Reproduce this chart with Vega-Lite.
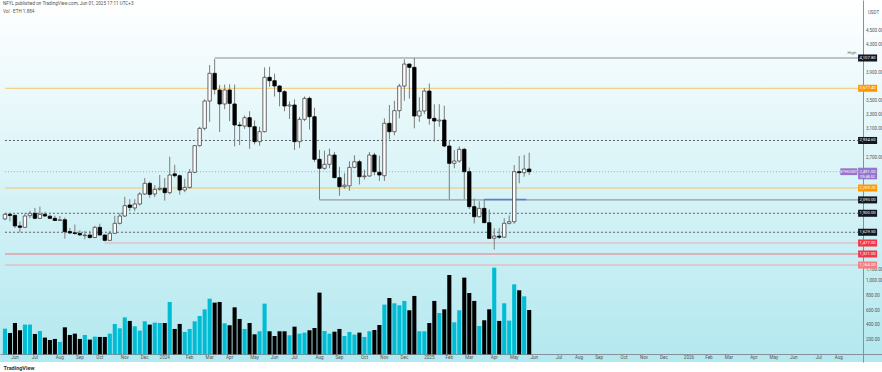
{
  "$schema": "https://vega.github.io/schema/vega-lite/v6.json",
  "width": 882,
  "height": 362,
  "padding": 0,
  "background": "#ffffff",
  "config": {
    "font": "Roboto",
    "view": {"stroke": null, "fill": {"gradient": "linear", "x1": 0, "y1": 0, "x2": 0, "y2": 1, "stops": [{"offset": 0, "color": "#ffffff"}, {"offset": 1, "color": "#b2e8ef"}]}}
  },
  "title": {"text": "NFYL published on TradingView.com, Jun 01, 2025 17:11 UTC+3", "subtitle": "Vol · ETH  1.884", "anchor": "start", "frame": "group", "orient": "top", "offset": -14, "fontSize": 4.6, "fontWeight": "normal", "color": "#555555", "subtitleFontSize": 4.6, "subtitleColor": "#555555", "subtitlePadding": 3.5, "dx": 3},
  "datasets": {
    "candles": [
      {"d":"2023-05-22","o":1820,"h":1900,"l":1800,"c":1885,"v":349},
      {"d":"2023-05-29","o":1885,"h":1905,"l":1785,"c":1870,"v":290},
      {"d":"2023-06-05","o":1870,"h":1880,"l":1690,"c":1720,"v":426},
      {"d":"2023-06-12","o":1720,"h":1780,"l":1626,"c":1700,"v":327},
      {"d":"2023-06-19","o":1700,"h":1900,"l":1690,"c":1861,"v":404},
      {"d":"2023-06-26","o":1866,"h":1935,"l":1830,"c":1899,"v":404},
      {"d":"2023-07-03","o":1899,"h":1975,"l":1815,"c":1828,"v":277},
      {"d":"2023-07-10","o":1828,"h":1994,"l":1820,"c":1885,"v":317},
      {"d":"2023-07-17","o":1885,"h":1920,"l":1845,"c":1861,"v":227},
      {"d":"2023-07-24","o":1858,"h":1880,"l":1815,"c":1828,"v":195},
      {"d":"2023-07-31","o":1828,"h":1865,"l":1790,"c":1797,"v":209},
      {"d":"2023-08-07","o":1797,"h":1860,"l":1790,"c":1808,"v":168},
      {"d":"2023-08-14","o":1808,"h":1840,"l":1540,"c":1638,"v":367},
      {"d":"2023-08-21","o":1640,"h":1690,"l":1605,"c":1620,"v":263},
      {"d":"2023-08-28","o":1622,"h":1740,"l":1595,"c":1612,"v":281},
      {"d":"2023-09-04","o":1612,"h":1660,"l":1580,"c":1592,"v":209},
      {"d":"2023-09-11","o":1582,"h":1650,"l":1530,"c":1590,"v":263},
      {"d":"2023-09-18","o":1590,"h":1650,"l":1540,"c":1555,"v":200},
      {"d":"2023-09-25","o":1555,"h":1720,"l":1550,"c":1700,"v":240},
      {"d":"2023-10-02","o":1700,"h":1752,"l":1585,"c":1591,"v":236},
      {"d":"2023-10-09","o":1591,"h":1600,"l":1500,"c":1515,"v":236},
      {"d":"2023-10-16","o":1515,"h":1650,"l":1505,"c":1615,"v":281},
      {"d":"2023-10-23","o":1615,"h":1865,"l":1610,"c":1757,"v":413},
      {"d":"2023-10-30","o":1757,"h":1900,"l":1740,"c":1861,"v":354},
      {"d":"2023-11-06","o":1861,"h":2135,"l":1850,"c":2008,"v":503},
      {"d":"2023-11-13","o":2017,"h":2100,"l":1930,"c":1984,"v":454},
      {"d":"2023-11-20","o":1975,"h":2100,"l":1930,"c":2032,"v":381},
      {"d":"2023-11-27","o":2032,"h":2200,"l":2010,"c":2174,"v":322},
      {"d":"2023-12-04","o":2174,"h":2400,"l":2160,"c":2326,"v":449},
      {"d":"2023-12-11","o":2326,"h":2350,"l":2120,"c":2169,"v":404},
      {"d":"2023-12-18","o":2174,"h":2300,"l":2130,"c":2240,"v":431},
      {"d":"2023-12-25","o":2240,"h":2445,"l":2220,"c":2255,"v":426},
      {"d":"2024-01-01","o":2255,"h":2400,"l":2080,"c":2193,"v":426},
      {"d":"2024-01-08","o":2193,"h":2705,"l":2170,"c":2444,"v":712},
      {"d":"2024-01-15","o":2460,"h":2590,"l":2410,"c":2434,"v":345},
      {"d":"2024-01-22","o":2434,"h":2450,"l":2165,"c":2231,"v":413},
      {"d":"2024-01-29","o":2231,"h":2390,"l":2200,"c":2268,"v":304},
      {"d":"2024-02-05","o":2268,"h":2530,"l":2250,"c":2482,"v":345},
      {"d":"2024-02-12","o":2482,"h":2870,"l":2470,"c":2861,"v":449},
      {"d":"2024-02-19","o":2861,"h":3130,"l":2850,"c":3108,"v":522},
      {"d":"2024-02-26","o":3108,"h":3520,"l":3080,"c":3496,"v":612},
      {"d":"2024-03-04","o":3496,"h":4008,"l":3200,"c":3890,"v":757},
      {"d":"2024-03-11","o":3890,"h":4093,"l":3590,"c":3662,"v":703},
      {"d":"2024-03-18","o":3653,"h":3725,"l":3056,"c":3454,"v":712},
      {"d":"2024-03-25","o":3454,"h":3730,"l":3380,"c":3653,"v":422},
      {"d":"2024-04-01","o":3653,"h":3735,"l":3210,"c":3463,"v":395},
      {"d":"2024-04-08","o":3454,"h":3730,"l":2850,"c":3155,"v":639},
      {"d":"2024-04-15","o":3155,"h":3200,"l":2870,"c":3146,"v":481},
      {"d":"2024-04-22","o":3140,"h":3290,"l":3100,"c":3259,"v":345},
      {"d":"2024-04-29","o":3259,"h":3350,"l":2817,"c":3131,"v":426},
      {"d":"2024-05-06","o":3131,"h":3220,"l":2880,"c":2918,"v":272},
      {"d":"2024-05-13","o":2918,"h":3130,"l":2860,"c":3060,"v":313},
      {"d":"2024-05-20","o":3060,"h":3975,"l":3050,"c":3833,"v":689},
      {"d":"2024-05-27","o":3833,"h":3984,"l":3700,"c":3785,"v":313},
      {"d":"2024-06-03","o":3785,"h":3885,"l":3560,"c":3710,"v":249},
      {"d":"2024-06-10","o":3710,"h":3720,"l":3420,"c":3629,"v":313},
      {"d":"2024-06-17","o":3629,"h":3650,"l":3350,"c":3425,"v":313},
      {"d":"2024-06-24","o":3425,"h":3490,"l":3240,"c":3440,"v":259},
      {"d":"2024-07-01","o":3439,"h":3520,"l":2800,"c":2918,"v":376},
      {"d":"2024-07-08","o":2918,"h":3270,"l":2830,"c":3236,"v":281},
      {"d":"2024-07-15","o":3236,"h":3560,"l":3210,"c":3534,"v":295},
      {"d":"2024-07-22","o":3534,"h":3560,"l":3090,"c":3273,"v":327},
      {"d":"2024-07-29","o":3273,"h":3400,"l":2630,"c":2667,"v":358},
      {"d":"2024-08-05","o":2667,"h":2800,"l":2095,"c":2539,"v":839},
      {"d":"2024-08-12","o":2539,"h":2790,"l":2520,"c":2596,"v":317},
      {"d":"2024-08-19","o":2596,"h":2820,"l":2540,"c":2728,"v":281},
      {"d":"2024-08-26","o":2728,"h":2770,"l":2400,"c":2406,"v":308},
      {"d":"2024-09-02","o":2406,"h":2560,"l":2150,"c":2278,"v":345},
      {"d":"2024-09-09","o":2278,"h":2470,"l":2250,"c":2300,"v":249},
      {"d":"2024-09-16","o":2290,"h":2640,"l":2220,"c":2553,"v":304},
      {"d":"2024-09-23","o":2553,"h":2725,"l":2540,"c":2633,"v":268},
      {"d":"2024-09-30","o":2633,"h":2660,"l":2310,"c":2420,"v":295},
      {"d":"2024-10-07","o":2420,"h":2520,"l":2380,"c":2430,"v":236},
      {"d":"2024-10-14","o":2430,"h":2770,"l":2420,"c":2728,"v":313},
      {"d":"2024-10-21","o":2728,"h":2760,"l":2440,"c":2491,"v":331},
      {"d":"2024-10-28","o":2482,"h":2720,"l":2360,"c":2444,"v":399},
      {"d":"2024-11-04","o":2434,"h":3250,"l":2360,"c":3179,"v":676},
      {"d":"2024-11-11","o":3179,"h":3440,"l":2950,"c":3060,"v":766},
      {"d":"2024-11-18","o":3060,"h":3500,"l":3010,"c":3359,"v":694},
      {"d":"2024-11-25","o":3359,"h":3740,"l":3250,"c":3709,"v":667},
      {"d":"2024-12-02","o":3709,"h":4090,"l":3500,"c":4022,"v":726},
      {"d":"2024-12-09","o":4022,"h":4030,"l":3530,"c":3975,"v":599},
      {"d":"2024-12-16","o":3975,"h":4107.8,"l":3108,"c":3283,"v":794},
      {"d":"2024-12-23","o":3283,"h":3550,"l":3200,"c":3354,"v":313},
      {"d":"2024-12-30","o":3354,"h":3680,"l":3310,"c":3638,"v":313},
      {"d":"2025-01-06","o":3638,"h":3745,"l":3160,"c":3250,"v":426},
      {"d":"2025-01-13","o":3250,"h":3450,"l":2920,"c":3212,"v":726},
      {"d":"2025-01-20","o":3212,"h":3450,"l":3130,"c":3225,"v":562},
      {"d":"2025-01-27","o":3226,"h":3430,"l":2840,"c":2856,"v":612},
      {"d":"2025-02-03","o":2856,"h":2930,"l":2095,"c":2610,"v":1079},
      {"d":"2025-02-10","o":2610,"h":2800,"l":2540,"c":2643,"v":435},
      {"d":"2025-02-17","o":2643,"h":2850,"l":2620,"c":2809,"v":599},
      {"d":"2025-02-24","o":2809,"h":2830,"l":2100,"c":2491,"v":1043},
      {"d":"2025-03-03","o":2491,"h":2550,"l":1960,"c":1994,"v":834},
      {"d":"2025-03-10","o":1994,"h":2110,"l":1755,"c":1851,"v":726},
      {"d":"2025-03-17","o":1851,"h":2070,"l":1840,"c":1970,"v":385},
      {"d":"2025-03-24","o":1970,"h":2100,"l":1765,"c":1766,"v":463},
      {"d":"2025-03-31","o":1766,"h":1955,"l":1537,"c":1543,"v":612},
      {"d":"2025-04-07","o":1545,"h":1690,"l":1385,"c":1575,"v":1179},
      {"d":"2025-04-14","o":1575,"h":1690,"l":1535,"c":1560,"v":454},
      {"d":"2025-04-21","o":1560,"h":1830,"l":1550,"c":1757,"v":694},
      {"d":"2025-04-28","o":1757,"h":1870,"l":1740,"c":1780,"v":458},
      {"d":"2025-05-05","o":1780,"h":2586,"l":1750,"c":2491,"v":952},
      {"d":"2025-05-12","o":2491,"h":2714,"l":2326,"c":2477,"v":871},
      {"d":"2025-05-19","o":2477,"h":2730,"l":2420,"c":2529,"v":789},
      {"d":"2025-05-26","o":2529,"h":2762,"l":2444,"c":2491,"v":603}
    ],
    "months": [
      {"m":"2023-06-05","t":"Jun"},{"m":"2023-07-03","t":"Jul"},{"m":"2023-08-07","t":"Aug"},{"m":"2023-09-04","t":"Sep"},{"m":"2023-10-02","t":"Oct"},{"m":"2023-11-06","t":"Nov"},{"m":"2023-12-04","t":"Dec"},
      {"m":"2024-01-01","t":"2024"},{"m":"2024-02-05","t":"Feb"},{"m":"2024-03-04","t":"Mar"},{"m":"2024-04-01","t":"Apr"},{"m":"2024-05-06","t":"May"},{"m":"2024-06-03","t":"Jun"},{"m":"2024-07-01","t":"Jul"},{"m":"2024-08-05","t":"Aug"},{"m":"2024-09-02","t":"Sep"},{"m":"2024-10-07","t":"Oct"},{"m":"2024-11-04","t":"Nov"},{"m":"2024-12-02","t":"Dec"},
      {"m":"2025-01-06","t":"2025"},{"m":"2025-02-03","t":"Feb"},{"m":"2025-03-03","t":"Mar"},{"m":"2025-04-07","t":"Apr"},{"m":"2025-05-05","t":"May"},{"m":"2025-06-02","t":"Jun"},{"m":"2025-07-07","t":"Jul"},{"m":"2025-08-04","t":"Aug"},{"m":"2025-09-01","t":"Sep"},{"m":"2025-10-06","t":"Oct"},{"m":"2025-11-03","t":"Nov"},{"m":"2025-12-01","t":"Dec"},
      {"m":"2026-01-05","t":"2026"},{"m":"2026-02-02","t":"Feb"},{"m":"2026-03-02","t":"Mar"},{"m":"2026-04-06","t":"Apr"},{"m":"2026-05-04","t":"May"},{"m":"2026-06-01","t":"Jun"},{"m":"2026-07-06","t":"Jul"},{"m":"2026-08-03","t":"Aug"}
    ],
    "levels": [
      {"price":4107.8,"start":"2024-03-11","kind":"solid"},
      {"price":3677,"start":"2023-05-22","kind":"orange"},
      {"price":2935,"start":"2023-05-22","kind":"dotted"},
      {"price":2491,"start":"2023-05-22","kind":"current"},
      {"price":2259,"start":"2023-05-22","kind":"orange"},
      {"price":2090,"start":"2024-08-05","kind":"solid"},
      {"price":1900,"start":"2023-05-22","kind":"dotted"},
      {"price":1630,"start":"2023-05-22","kind":"dotted"},
      {"price":1477,"start":"2023-10-09","kind":"pink"},
      {"price":1321,"start":"2023-05-22","kind":"red"},
      {"price":1164,"start":"2023-05-22","kind":"pink"}
    ],
    "segments": [
      {"price":2095,"start":"2025-03-24","end":"2025-05-22"}
    ],
    "labels": [
      {"price":4107.8,"text":"4,107.80","kind":"black"},
      {"price":3677,"text":"3,677.40","kind":"orange"},
      {"price":2935,"text":"2,934.60","kind":"black"},
      {"price":2259,"text":"2,259.20","kind":"orange"},
      {"price":2090,"text":"2,090.00","kind":"black"},
      {"price":1900,"text":"1,900.00","kind":"black"},
      {"price":1630,"text":"1,629.50","kind":"black"},
      {"price":1477,"text":"1,477.00","kind":"red"},
      {"price":1321,"text":"1,321.00","kind":"red"},
      {"price":1164,"text":"1,164.00","kind":"pink"}
    ],
    "current": [
      {"price":2491,"text":"2,491.00","timer":"09:48:52","sym":"ETHUSDT"}
    ],
    "notes": [
      {"price":4107.8,"text":"High"}
    ]
  },
  "layer": [
    {
      "layer": [
        {
          "data": {"name": "levels"},
          "mark": {"type": "rule", "strokeWidth": 1},
          "encoding": {
            "x": {"field": "start", "type": "temporal", "title": "TradingView", "scale": {"type": "utc", "domain": [{"year":2023,"month":5,"date":22,"hours":1,"minutes":41,"utc":true},{"year":2026,"month":9,"date":25,"hours":15,"minutes":24,"utc":true}]},
              "axis": {"orient": "bottom", "offset": -8, "labels": false, "ticks": false, "domainColor": "#8a8f99", "domainWidth": 1, "grid": false,
                "title": "TradingView", "titleFontSize": 5.5, "titleColor": "#333333", "titleFontWeight": "bold", "titleAnchor": "start", "titleAlign": "left", "titleX": 3, "titleY": 13, "titleBaseline": "middle"}},
            "x2": {"datum": {"year":2026,"month":8,"date":30,"hours":6,"utc":true}},
            "y": {"field": "price", "type": "quantitative", "title": "USDT", "scale": {"domain": [-214.8, 4932.5], "nice": false, "zero": false},
              "axis": {"orient": "right", "offset": -19, "values": [1100,2700,3100,3300,3500,3900,4300,4500], "format": ",.2f", "labelFontSize": 4.5, "labelColor": "#555555", "labelPadding": 2.5, "ticks": false, "domainColor": "#8a8f99", "domainWidth": 1, "grid": false, "labelOverlap": false, "labelBound": false, "labelFlush": false, "title": "USDT", "titleAngle": 0, "titleX": 10, "titleY": 12, "titleFontSize": 4.5, "titleColor": "#555555", "titleFontWeight": "normal", "titleAlign": "center", "titleBaseline": "middle"}},
            "stroke": {"field": "kind", "type": "nominal", "legend": null, "scale": {"domain": ["solid","orange","dotted","current","pink","red"], "range": ["#787b86","#f6c36b","#5d606b","#a9a3d9","#eda5ae","#ee6f7f"]}},
            "strokeDash": {"field": "kind", "type": "nominal", "legend": null, "scale": {"domain": ["solid","orange","dotted","current","pink","red"], "range": [[1,0],[1,0],[2,2],[1,2],[1,0],[1,0]]}}
          }
        },
        {
          "data": {"name": "months"},
          "mark": {"type": "text", "fontSize": 4.6, "color": "#555555", "align": "center", "baseline": "middle"},
          "encoding": {
            "x": {"field": "m", "type": "temporal", "title": "TradingView"},
            "y": {"datum": -164.7, "type": "quantitative", "title": "USDT"},
            "text": {"field": "t"}
          }
        },
        {
          "data": {"name": "segments"},
          "mark": {"type": "rule", "strokeWidth": 1.5, "color": "#4f7fe0"},
          "encoding": {
            "x": {"field": "start", "type": "temporal", "title": "TradingView"},
            "x2": {"field": "end"},
            "y": {"field": "price", "type": "quantitative", "title": "USDT"}
          }
        },
        {
          "data": {"name": "candles"},
          "mark": {"type": "rule", "strokeWidth": 1, "color": "#7d7d7d"},
          "encoding": {
            "x": {"field": "d", "type": "temporal", "title": "TradingView"},
            "y": {"field": "l", "type": "quantitative", "title": "USDT"},
            "y2": {"field": "h"}
          }
        },
        {
          "data": {"name": "candles"},
          "mark": {"type": "bar", "size": 3.4, "strokeWidth": 0.8},
          "encoding": {
            "x": {"field": "d", "type": "temporal", "title": "TradingView"},
            "y": {"field": "o", "type": "quantitative", "title": "USDT"},
            "y2": {"field": "c"},
            "fill": {"condition": {"test": "datum.c >= datum.o", "value": "#ffffff"}, "value": "#000000"},
            "stroke": {"condition": {"test": "datum.c >= datum.o", "value": "#444444"}, "value": "#000000"}
          }
        },
        {
          "data": {"name": "labels"},
          "mark": {"type": "point", "shape": "M-1,-0.37L1,-0.37L1,0.37L-1,0.37Z", "filled": true, "size": 361, "opacity": 1, "strokeWidth": 0},
          "encoding": {
            "x": {"datum": {"year":2026,"month":9,"date":12,"hours":11,"utc":true}, "type": "temporal", "title": "TradingView"},
            "y": {"field": "price", "type": "quantitative", "title": "USDT"},
            "fill": {"field": "kind", "type": "nominal", "legend": null, "scale": {"domain": ["black","orange","red","pink"], "range": ["#131722","#ff9800","#f23645","#f77c80"]}}
          }
        },
        {
          "data": {"name": "labels"},
          "mark": {"type": "text", "fontSize": 4.2, "color": "#ffffff", "align": "center", "baseline": "middle"},
          "encoding": {
            "x": {"datum": {"year":2026,"month":9,"date":12,"hours":11,"utc":true}, "type": "temporal", "title": "TradingView"},
            "y": {"field": "price", "type": "quantitative", "title": "USDT"},
            "text": {"field": "text"}
          }
        },
        {
          "data": {"name": "current"},
          "mark": {"type": "point", "shape": "M-1,-0.42L1,-0.42L1,0.8L-1,0.8Z", "filled": true, "size": 361, "opacity": 1, "strokeWidth": 0, "color": "#9575cd"},
          "encoding": {
            "x": {"datum": {"year":2026,"month":9,"date":12,"hours":11,"utc":true}, "type": "temporal", "title": "TradingView"},
            "y": {"field": "price", "type": "quantitative", "title": "USDT"}
          }
        },
        {
          "data": {"name": "current"},
          "mark": {"type": "text", "fontSize": 4.2, "color": "#ffffff", "align": "center", "baseline": "middle"},
          "encoding": {
            "x": {"datum": {"year":2026,"month":9,"date":12,"hours":11,"utc":true}, "type": "temporal", "title": "TradingView"},
            "y": {"field": "price", "type": "quantitative", "title": "USDT"},
            "text": {"field": "text"}
          }
        },
        {
          "data": {"name": "current"},
          "mark": {"type": "text", "fontSize": 3.8, "color": "#ffffff", "align": "center", "baseline": "middle", "dy": 5},
          "encoding": {
            "x": {"datum": {"year":2026,"month":9,"date":12,"hours":11,"utc":true}, "type": "temporal", "title": "TradingView"},
            "y": {"field": "price", "type": "quantitative", "title": "USDT"},
            "text": {"field": "timer"}
          }
        },
        {
          "data": {"name": "current"},
          "mark": {"type": "point", "shape": "M-1,-0.4L1,-0.4L1,0.4L-1,0.4Z", "filled": true, "size": 289, "opacity": 1, "strokeWidth": 0, "color": "#9575cd"},
          "encoding": {
            "x": {"datum": {"year":2026,"month":8,"date":17,"hours":4,"utc":true}, "type": "temporal", "title": "TradingView"},
            "y": {"field": "price", "type": "quantitative", "title": "USDT"}
          }
        },
        {
          "data": {"name": "current"},
          "mark": {"type": "text", "fontSize": 3.8, "color": "#ffffff", "align": "center", "baseline": "middle"},
          "encoding": {
            "x": {"datum": {"year":2026,"month":8,"date":17,"hours":4,"utc":true}, "type": "temporal", "title": "TradingView"},
            "y": {"field": "price", "type": "quantitative", "title": "USDT"},
            "text": {"field": "sym"}
          }
        },
        {
          "data": {"name": "notes"},
          "mark": {"type": "text", "fontSize": 4.2, "color": "#666666", "align": "right", "baseline": "middle", "dy": -5},
          "encoding": {
            "x": {"datum": {"year":2026,"month":8,"date":27,"hours":14,"utc":true}, "type": "temporal", "title": "TradingView"},
            "y": {"field": "price", "type": "quantitative", "title": "USDT"},
            "text": {"field": "text"}
          }
        }
      ]
    },
    {
      "data": {"name": "candles"},
      "mark": {"type": "bar", "size": 4.1},
      "encoding": {
        "x": {"field": "d", "type": "temporal", "title": "TradingView"},
        "y": {"field": "v", "type": "quantitative", "scale": {"domain": [-104.8, 4820.4], "nice": false, "zero": false},
          "axis": {"orient": "right", "offset": -19, "values": [200,400,600,800,1000], "format": ",.2f", "labelFontSize": 4.5, "labelColor": "#555555", "labelPadding": 2.5, "ticks": false, "domain": false, "grid": false, "title": null, "labelOverlap": false, "labelBound": false, "labelFlush": false}},
        "y2": {"datum": 0},
        "color": {"condition": {"test": "datum.c >= datum.o", "value": "#00bcd4"}, "value": "#000000"}
      }
    }
  ],
  "resolve": {"scale": {"y": "independent"}, "axis": {"y": "independent"}}
}
